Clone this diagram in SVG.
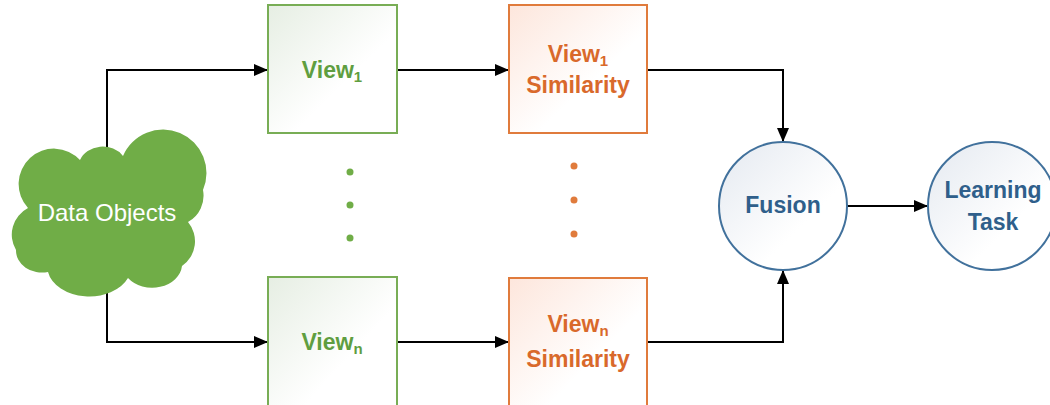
<svg xmlns="http://www.w3.org/2000/svg" width="1050" height="405" viewBox="0 0 1050 405">
<defs>
<linearGradient id="gG" x1="0" y1="0" x2="1" y2="1"><stop offset="0" stop-color="#e6eee3"/><stop offset="0.6" stop-color="#ffffff"/></linearGradient>
<linearGradient id="gO" x1="0" y1="0" x2="1" y2="1"><stop offset="0" stop-color="#fde6dc"/><stop offset="0.6" stop-color="#ffffff"/></linearGradient>
<linearGradient id="gB" x1="0" y1="0" x2="1" y2="1"><stop offset="0" stop-color="#e4e9f0"/><stop offset="0.65" stop-color="#ffffff"/></linearGradient>
<marker id="ah" viewBox="0 0 14 12" refX="14" refY="6" markerWidth="14" markerHeight="12" markerUnits="userSpaceOnUse" orient="auto"><path d="M0 0 L14 6 L0 12 Z" fill="#000"/></marker>
<style>
.lbl{font-family:"Liberation Sans",Arial,sans-serif;font-weight:bold;font-size:23px;text-anchor:middle}
.sub{font-size:15px}
.g{fill:#5f9e40}
.o{fill:#d9692b}
.b{fill:#2f5f8b}
.gbox{fill:url(#gG);stroke:#78ad55;stroke-width:2}
.obox{fill:url(#gO);stroke:#e07b3c;stroke-width:2}
.circ{fill:url(#gB);stroke:#41719c;stroke-width:2}
.edge{fill:none;stroke:#000;stroke-width:2;marker-end:url(#ah)}
</style>
</defs>
<g id="connectors">
<path class="edge" d="M107 150 V70 H268"/>
<path class="edge" d="M107 280 V342 H268"/>
<path class="edge" d="M397 70 H509"/>
<path class="edge" d="M397 342 H509"/>
<path class="edge" d="M647 70 H783 V142"/>
<path class="edge" d="M647 342 H783 V270"/>
<path class="edge" d="M847 206 H928"/>
</g>
<g id="data-objects">
<path d="M16 250 A30 30 0 0 1 28 208 A30 30 0 0 1 80 160 A24 20 0 0 1 123 156 A42 42 0 0 1 203 190 A30 30 0 0 1 188 222 A30 30 0 0 1 182 266 A30 24 0 0 1 128 278 A42 30 0 0 1 48 272 A26 22 0 0 1 16 250 Z" fill="#70ad47"/>
<text x="107" y="221" font-family="Liberation Sans,Arial,sans-serif" font-size="24" fill="#fff" text-anchor="middle">Data Objects</text>
</g>
<g id="view1">
<rect class="gbox" x="268" y="5" width="129" height="128"/>
<text class="lbl g" x="332" y="78">View<tspan class="sub" dy="4">1</tspan></text>
</g>
<g id="viewn">
<rect class="gbox" x="268" y="277" width="129" height="140"/>
<text class="lbl g" x="332" y="350">View<tspan class="sub" dy="4">n</tspan></text>
</g>
<g id="view1-similarity">
<rect class="obox" x="509" y="5" width="138" height="128"/>
<text class="lbl o" x="578" y="62">View<tspan class="sub" dy="4">1</tspan></text>
<text class="lbl o" x="578" y="93">Similarity</text>
</g>
<g id="viewn-similarity">
<rect class="obox" x="509" y="278" width="138" height="140"/>
<text class="lbl o" x="578" y="332">View<tspan class="sub" dy="4">n</tspan></text>
<text class="lbl o" x="578" y="367">Similarity</text>
</g>
<g id="dots-views" fill="#70ad47">
<circle cx="350" cy="172" r="3.5"/><circle cx="350" cy="205" r="3.5"/><circle cx="350" cy="238" r="3.5"/>
</g>
<g id="dots-similarity" fill="#e07b3c">
<circle cx="574" cy="166" r="3.5"/><circle cx="574" cy="200" r="3.5"/><circle cx="574" cy="234" r="3.5"/>
</g>
<g id="fusion">
<circle class="circ" cx="783" cy="206" r="64"/>
<text class="lbl b" x="783" y="213">Fusion</text>
</g>
<g id="learning-task">
<circle class="circ" cx="992" cy="206" r="64"/>
<text class="lbl b" x="993" y="198">Learning</text>
<text class="lbl b" x="993" y="230">Task</text>
</g>
</svg>
